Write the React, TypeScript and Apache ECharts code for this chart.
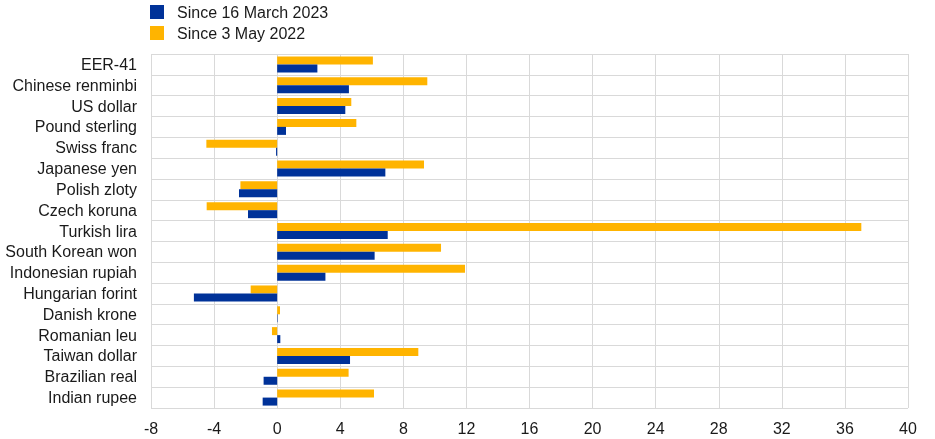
import React, { useEffect, useRef } from "react";
import * as echarts from "echarts";

const categories = [
  "EER-41",
  "Chinese renminbi",
  "US dollar",
  "Pound sterling",
  "Swiss franc",
  "Japanese yen",
  "Polish zloty",
  "Czech koruna",
  "Turkish lira",
  "South Korean won",
  "Indonesian rupiah",
  "Hungarian forint",
  "Danish krone",
  "Romanian leu",
  "Taiwan dollar",
  "Brazilian real",
  "Indian rupee",
];

const since2023 = [2.55, 4.55, 4.32, 0.56, -0.07, 6.86, -2.42, -1.85, 7.01, 6.18, 3.06, -5.28, 0.03, 0.2, 4.62, -0.86, -0.92];
const since2022 = [6.07, 9.52, 4.7, 5.02, -4.49, 9.31, -2.33, -4.47, 37.04, 10.39, 11.91, -1.68, 0.18, -0.33, 8.95, 4.53, 6.14];

const seriesNames = ["Since 16 March 2023", "Since 3 May 2022"];
const xMin = -8;
const xMax = 40;
const xInterval = 4;

export default function App() {
  const ref = useRef<HTMLDivElement>(null);
  useEffect(() => {
    if (!ref.current) return;
    const chart = echarts.init(ref.current, undefined, { renderer: "svg" });
    const font = "Arial, 'Liberation Sans', sans-serif";
    chart.setOption({
      animation: false,
      textStyle: { fontFamily: font },
      legend: {
        data: seriesNames,
        orient: "vertical",
        left: 150,
        top: 4,
        padding: 0,
        itemWidth: 14,
        itemHeight: 14,
        itemGap: 5,
        icon: "rect",
        textStyle: { fontSize: 16, color: "#1a1a1a", fontFamily: font, padding: [0, 0, 0, 8] },
      },
      grid: { left: 151, right: 27, top: 54, bottom: 31, containLabel: false },
      xAxis: {
        type: "value",
        min: xMin,
        max: xMax,
        interval: xInterval,
        axisLine: { show: false },
        axisTick: { show: false },
        axisLabel: { fontSize: 16, color: "#1a1a1a", margin: 12, fontFamily: font },
        splitLine: { show: true, lineStyle: { color: "#d9d9d9", width: 1 } },
      },
      yAxis: {
        type: "category",
        data: categories,
        inverse: true,
        axisLine: { show: false },
        axisTick: { show: false },
        axisLabel: { fontSize: 16, color: "#1a1a1a", margin: 14, fontFamily: font, interval: 0 },
        splitLine: { show: true, interval: 0, lineStyle: { color: "#d9d9d9", width: 1 } },
      },
      series: [
        {
          name: seriesNames[1],
          type: "bar",
          data: since2022,
          barWidth: 8,
          barGap: "0%",
          itemStyle: { color: "#FFB400" },
        },
        {
          name: seriesNames[0],
          type: "bar",
          data: since2023,
          barWidth: 8,
          barGap: "0%",
          itemStyle: { color: "#003299" },
        },
      ],
    });
    return () => chart.dispose();
  }, []);
  return <div ref={ref} style={{ position: "fixed", left: 0, top: 0, width: 935, height: 439 }} />;
}
